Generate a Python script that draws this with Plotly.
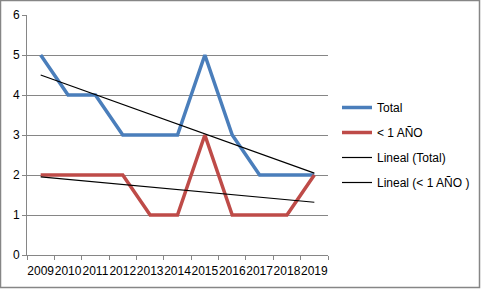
import numpy as np
import plotly.graph_objects as go

years = ["2009", "2010", "2011", "2012", "2013", "2014", "2015", "2016", "2017", "2018", "2019"]
total = [5, 4, 4, 3, 3, 3, 5, 3, 2, 2, 2]
menor1 = [2, 2, 2, 2, 1, 1, 3, 1, 1, 1, 2]
y_ticks = [0, 1, 2, 3, 4, 5, 6]

idx = np.arange(len(years))


def linear_trend(values):
    slope, intercept = np.polyfit(idx, values, 1)
    return list(slope * idx + intercept)


W, H = 481, 289
ML, MR, MT, MB = 27, 153, 15, 34
PW, PH = W - ML - MR, H - MT - MB

font = "Liberation Sans, Arial, sans-serif"

fig = go.Figure()
fig.add_trace(go.Scatter(x=years, y=total, mode="lines", name="Total",
                         line=dict(color="#4A7EBB", width=3.5), legendgroup="a"))
fig.add_trace(go.Scatter(x=years, y=menor1, mode="lines", name="< 1 AÑO",
                         line=dict(color="#BE4B48", width=3.5), legendgroup="b"))
fig.add_trace(go.Scatter(x=years, y=linear_trend(total), mode="lines", name="Lineal (Total)",
                         line=dict(color="black", width=1.2), legendgroup="c"))
fig.add_trace(go.Scatter(x=years, y=linear_trend(menor1), mode="lines", name="Lineal (< 1 AÑO )",
                         line=dict(color="black", width=1.2), legendgroup="d"))

def px_x(p):
    return (p - ML) / PW

def px_y(p):
    return (H - MB - p) / PH

fig.add_shape(type="rect", xref="paper", yref="paper",
              x0=px_x(0.5), x1=px_x(W - 1.5), y0=px_y(H - 1.5), y1=px_y(0.5),
              line=dict(color="#868686", width=1.5), fillcolor="rgba(0,0,0,0)", layer="below")

fig.update_layout(
    width=W, height=H,
    margin=dict(l=ML, r=MR, t=MT, b=MB, pad=0, autoexpand=False),
    paper_bgcolor="white", plot_bgcolor="white",
    font=dict(family=font, size=12, color="#000000"),
    showlegend=True,
    legend=dict(x=px_x(337), y=px_y(145), xanchor="left", yanchor="middle",
                font=dict(size=12, family=font), tracegroupgap=6,
                bgcolor="rgba(0,0,0,0)"),
    xaxis=dict(type="category", tickson="boundaries", ticks="outside", ticklen=4,
               tickcolor="#868686", showline=True, linecolor="#868686", linewidth=1,
               showgrid=False, tickangle=0, tickfont=dict(size=12, family=font),
               ticklabelstandoff=5,
               range=[-0.5, len(years) - 0.5], fixedrange=True, automargin=False),
    yaxis=dict(range=[0, 6], tickvals=y_ticks, ticks="outside", ticklen=4,
               tickcolor="#868686", showline=True, linecolor="#868686", linewidth=1,
               showgrid=True, gridcolor="#868686", gridwidth=1, zeroline=False,
               tickfont=dict(size=12, family=font), fixedrange=True, automargin=False),
)

fig.write_html("out.html", post_script="document.body.style.margin='0';",
               config={"displayModeBar": False})
